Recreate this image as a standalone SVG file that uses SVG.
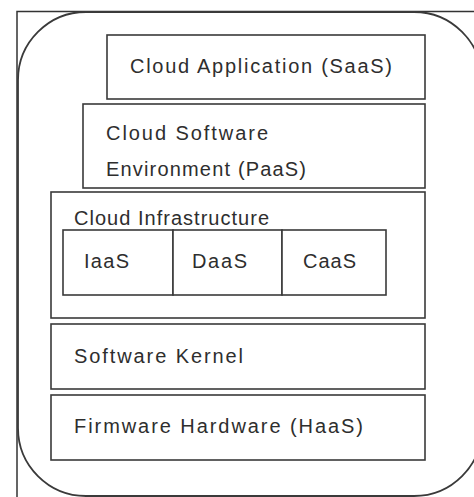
<svg xmlns="http://www.w3.org/2000/svg" width="474" height="497" viewBox="0 0 474 497">
<style>
.box{fill:#fff;stroke:#3a3a3a;stroke-width:1.6}
.t{font-family:"Liberation Sans",Arial,sans-serif;font-size:20px;fill:#2e2e2e}
</style>
<rect width="474" height="497" fill="#fff"/>
<g id="frame">
<path d="M17,497 V11.5 H474" fill="none" stroke="#333" stroke-width="1.5"/>
<rect x="18" y="12" width="464" height="484" rx="68" ry="68" fill="#fff" stroke="#3a3a3a" stroke-width="1.8"/>
</g>
<g id="saas">
<rect class="box" x="107" y="35" width="318" height="64"/>
<text class="t" x="130" y="73" textLength="262" lengthAdjust="spacing">Cloud Application (SaaS)</text>
</g>
<g id="paas">
<rect class="box" x="83" y="104" width="342" height="84"/>
<text class="t" x="106" y="140" textLength="162" lengthAdjust="spacing">Cloud Software</text>
<text class="t" x="106" y="176" textLength="200" lengthAdjust="spacing">Environment (PaaS)</text>
</g>
<g id="infra">
<rect class="box" x="51" y="192" width="374" height="126"/>
<text class="t" x="74" y="225" textLength="195" lengthAdjust="spacing">Cloud Infrastructure</text>
</g>
<g id="iaas">
<rect class="box" x="63" y="230" width="110" height="65"/>
<text class="t" x="84" y="268" textLength="45" lengthAdjust="spacing">IaaS</text>
</g>
<g id="daas">
<rect class="box" x="173" y="230" width="109" height="65"/>
<text class="t" x="192" y="268" textLength="55" lengthAdjust="spacing">DaaS</text>
</g>
<g id="caas">
<rect class="box" x="282" y="230" width="104" height="65"/>
<text class="t" x="303" y="268" textLength="53" lengthAdjust="spacing">CaaS</text>
</g>
<g id="kernel">
<rect class="box" x="51" y="324" width="374" height="65"/>
<text class="t" x="74" y="363" textLength="169" lengthAdjust="spacing">Software Kernel</text>
</g>
<g id="haas">
<rect class="box" x="51" y="395" width="374" height="65"/>
<text class="t" x="74" y="433" textLength="289" lengthAdjust="spacing">Firmware Hardware (HaaS)</text>
</g>
<g id="connectors"/>
</svg>
